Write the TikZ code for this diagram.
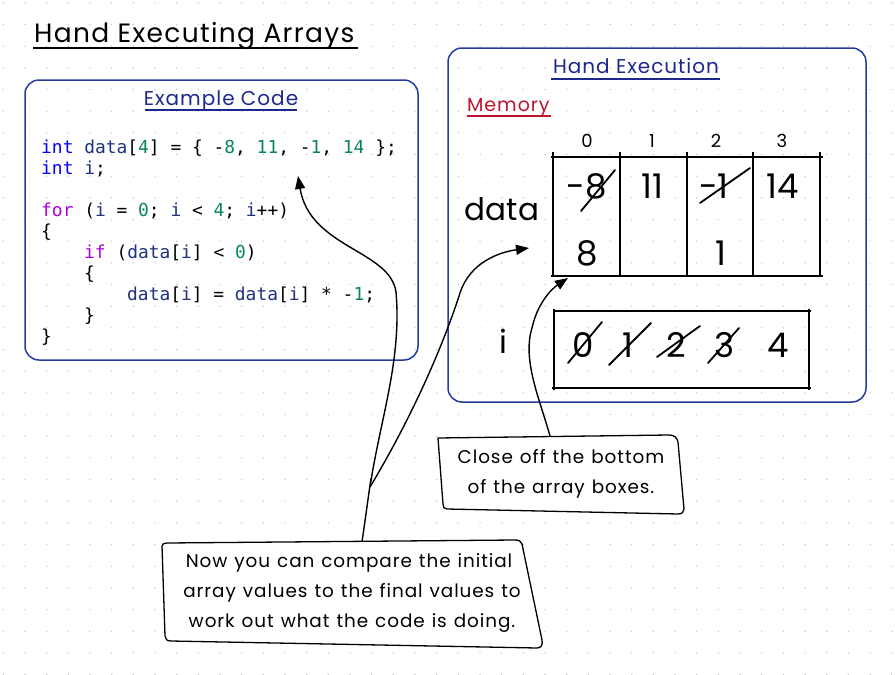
\documentclass[tikz,border=0pt]{standalone}
\usepackage{fontspec}
\setmainfont{Poppins}
\newfontfamily\spacedfont[LetterSpace=5]{Poppins}
\setmonofont{DejaVu Sans Mono}
\usetikzlibrary{arrows.meta}
\definecolor{boxblue}{RGB}{40,60,160}
\definecolor{ttlblue}{RGB}{30,40,140}
\definecolor{memred}{RGB}{190,20,45}
\definecolor{kwblue}{RGB}{0,0,255}
\definecolor{kwpurple}{RGB}{175,0,219}
\definecolor{varblue}{RGB}{30,50,125}
\definecolor{numgreen}{RGB}{9,134,88}
\definecolor{dotgray}{RGB}{195,195,195}
\newcommand\ckw[1]{\textcolor{kwblue}{#1}}
\newcommand\cctl[1]{\textcolor{kwpurple}{#1}}
\newcommand\cvar[1]{\textcolor{varblue}{#1}}
\newcommand\cnum[1]{\textcolor{numgreen}{#1}}
\newcommand\notefont{\spacedfont\fontsize{18.4}{22}\selectfont\spaceskip 0.38em plus 0.1em\relax}
\tikzset{
  codeline/.style={anchor=base west, inner sep=0pt, font=\ttfamily\fontsize{17.9}{21}\selectfont\frenchspacing},
  hand/.style={anchor=base, inner sep=0pt},
  bigval/.style={hand, font=\fontsize{34}{40}\selectfont},
  idx/.style={hand, font=\fontsize{18}{22}\selectfont},
  strike/.style={line width=1.8pt, line cap=round},
  gridline/.style={line width=1.5pt},
  panel/.style={draw=boxblue, line width=1.5pt, rounded corners=14pt},
  heading/.style={hand, text=ttlblue, font=\spacedfont\fontsize{20}{24}\selectfont},
  uline/.style={line width=1.3pt},
  notebox/.style={draw=black, line width=1.3pt, fill=white, line join=round},
  notetext/.style={hand, font=\notefont},
  arrowline/.style={line width=1.4pt, -{Triangle[length=13pt,width=10pt]}},
}
\begin{document}
\begin{tikzpicture}[x=1pt,y=-1pt]
\fill[white] (0,0) rectangle (895,675);
\useasboundingbox (0,0) rectangle (895,675);
% dot grid
\foreach \i in {0,...,41} {
  \foreach \j in {0,...,31} {
    \fill[dotgray] (3.3+21.67*\i, 2.8+21.67*\j) circle (0.75pt);
  }
}
% title
\node[hand, anchor=base west, font=\spacedfont\fontsize{26.5}{30}\selectfont] (title) at (34,42) {Hand Executing Arrays};
\draw[line width=2pt] (33,48) -- (358,48);

% Example code panel
\draw[panel] (25,80) rectangle (418,360);
\node[heading] (codehead) at (221,105) {Example Code};
\draw[ttlblue, uline] (145,110) -- (297,110);

\node[codeline] (c1) at (41,153) {\ckw{int} \cvar{data}[\cnum{4}] = \{ -\cnum{8}, \cnum{11}, -\cnum{1}, \cnum{14} \};};
\node[codeline] (c2) at (41,174) {\ckw{int} \cvar{i};};
\node[codeline] (c4) at (41,216) {\cctl{for} (\cvar{i} = \cnum{0}; \cvar{i} < \cnum{4}; \cvar{i}++)};
\node[codeline] (c5) at (41,237) {\{};
\node[codeline] (c6) at (84,258) {\cctl{if} (\cvar{data}[\cvar{i}] < \cnum{0})};
\node[codeline] (c7) at (84,279) {\{};
\node[codeline] (c8) at (127,300) {\cvar{data}[\cvar{i}] = \cvar{data}[\cvar{i}] * -\cnum{1};};
\node[codeline] (c9) at (84,321) {\}};
\node[codeline] (c10) at (41,342) {\}};

% Hand execution panel
\draw[panel] (448,48) rectangle (866,402);
\node[heading] (exechead) at (636,73) {Hand Execution};
\draw[ttlblue, uline] (551,79) -- (720,79);
\node[hand, anchor=base west, text=memred, font=\spacedfont\fontsize{19}{23}\selectfont] (mem) at (467,111) {Memory};
\draw[memred, uline] (467,116) -- (551,116);

% indices
\node[idx] (i0) at (587,147) {0};
\node[idx] (i1) at (652,147) {1};
\node[idx] (i2) at (716,147) {2};
\node[idx] (i3) at (782,147) {3};

% data label and grid
\node[hand, font=\fontsize{31}{38}\selectfont] (datalbl) at (502,220) {data};
\draw[gridline] (551,157) -- (823,157);
\draw[gridline] (551,276) -- (823,276);
\foreach \x in {553,620,687,753,820} { \draw[gridline] (\x,152) -- (\x,277); }

% values
\node[bigval] (v0) at (587,198) {-8};
\node[bigval] (v1) at (652,198) {11};
\node[bigval] (v2) at (714,198) {-1};
\node[bigval] (v3) at (783,198) {14};
\node[bigval] (w0) at (587,265) {8};
\node[bigval] (w2) at (721,265) {1};
\draw[strike] (581,211) -- (615,170);
\draw[strike] (700,203) -- (750,168);

% i variable
\node[hand, font=\fontsize{32}{38}\selectfont] (ilbl) at (503,353) {i};
\draw[gridline] (553,311) -- (811,311);
\draw[gridline] (552,388) -- (811,388);
\draw[gridline] (554,309) -- (554,390);
\draw[gridline] (809,309) -- (809,390);
\node[bigval] (n0) at (583,357) {0};
\node[bigval] (n1) at (628,357) {1};
\node[bigval] (n2) at (676,357) {2};
\node[bigval] (n3) at (725,357) {3};
\node[bigval] (n4) at (778,357) {4};
\draw[strike] (568,363) -- (602,322);
\draw[strike] (609,365) -- (651,323);
\draw[strike] (657,357) -- (700,326);
\draw[strike] (708,363) -- (739,328);

% note A
\draw[notebox] (438,438) -- (669,435) .. controls (675,435) and (677,438) .. (678,442) -- (684,509) .. controls (684,512) and (682,514) .. (678,514) -- (447,509) .. controls (444,509) and (443,507) .. (443,504) -- cycle;
\node[notetext] (noteA) at (561,463) {Close off the bottom};
\node[notetext] (noteA2) at (561,493) {of the array boxes.};

% note B
\draw[notebox] (162,546) .. controls (162,544) and (164,543) .. (167,543) -- (515,540) .. controls (519,540) and (521,541) .. (522,544) -- (542,640) .. controls (543,645) and (541,648) .. (537,648) -- (171,641) .. controls (167,641) and (165,639) .. (165,636) -- cycle;
\node[notetext] (noteB) at (349,567) {Now you can compare the initial};
\node[notetext] (noteB2) at (352,597) {array values to the final values to};
\node[notetext] (noteB3) at (352,627) {work out what the code is doing.};

% connectors
\coordinate (sB) at (362,542);
\coordinate (jn) at (370,487);
\coordinate (tCode) at (298,176);
\coordinate (tData) at (529,248);
\coordinate (sA) at (550,436);
\coordinate (tBottom) at (568,278);
\draw[arrowline] (sB) .. controls (368,500) and (372,470) .. (jn) .. controls (380,420) and (402,360) .. (396,292) .. controls (390,250) and (310,248) .. (tCode);
\draw[arrowline] (jn) .. controls (415,412) and (445,340) .. (460,293) .. controls (470,262) and (500,252) .. (tData);
\draw[arrowline] (sA) .. controls (540,400) and (522,360) .. (532,328) .. controls (537,305) and (550,290) .. (tBottom);
\end{tikzpicture}
\end{document}
